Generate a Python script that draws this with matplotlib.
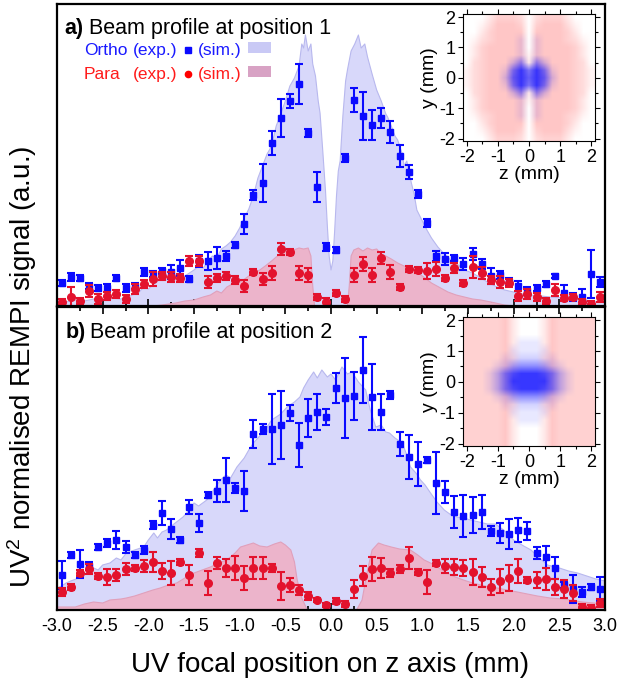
#!/usr/bin/env python

# Two stacked beam profiles (ortho / para REMPI signal) with particle-map insets

import numpy as np
import matplotlib
matplotlib.use("Agg")
import matplotlib.pyplot as plt
from matplotlib.patches import Rectangle
from matplotlib.lines import Line2D
from matplotlib.ticker import MultipleLocator, FormatStrFormatter

plt.rcParams["font.family"] = ["Liberation Sans", "DejaVu Sans"]
plt.rcParams["axes.unicode_minus"] = False
plt.rcParams["mathtext.fontset"] = "custom"
plt.rcParams["mathtext.rm"] = "Liberation Sans"
plt.rcParams["mathtext.default"] = "regular"

# Experimental positions (mm)
z_exp = [-2.95, -2.85, -2.75, -2.65, -2.55, -2.45, -2.35, -2.25, -2.15, -2.05,
         -1.95, -1.85, -1.75, -1.65, -1.55, -1.45, -1.35, -1.25, -1.15, -1.05,
         -0.95, -0.85, -0.75, -0.65, -0.55, -0.45, -0.35, -0.25, -0.15, -0.05,
         0.05, 0.15, 0.25, 0.35, 0.45, 0.55, 0.65, 0.75, 0.85, 0.95,
         1.05, 1.15, 1.25, 1.35, 1.45, 1.55, 1.65, 1.75, 1.85, 1.95,
         2.05, 2.15, 2.25, 2.35, 2.45, 2.55, 2.65, 2.75, 2.85, 2.95]

# Position 1 - experiment (a.u.)
a_ortho = [23, 29, 27.7, 20, 17.7, 18, 28, 17.7, 20.3, 34,
           32, 35, 34, 37.7, 27.3, 44.7, 45, 48, 50, 61,
           81.7, 110.7, 123.3, 162.7, 188, 204.7, 221.7, 172.7, 119.3, 59,
           56, 147.7, 206, 190, 181, 187.7, 174.3, 150, 134.3, 111.7,
           82.7, 50.3, 46.7, 48.3, 41.7, 51.7, 41.7, 30.3, 31, 23.7,
           20, 15, 18.3, 22, 30, 12.7, 9.3, 9.3, 31.7, 24]
a_ortho_err = [3, 4, 3, 3, 3, 4, 3, 4, 3, 4,
               3, 3, 7, 8, 3, 6, 9, 11, 5, 3,
               10, 5, 19, 12, 19, 7, 20, 4, 15, 4,
               3, 4, 12, 24, 15, 10, 11, 11, 7, 4,
               4, 5, 6, 3, 6, 6, 5, 8, 4, 4,
               5, 4, 3, 3, 2, 8, 4, 8, 24, 5]
a_para = [4.3, 9.3, 5, 15, 6.7, 10.3, 11.7, 6.7, 16.7, 21.7,
          26.7, 30.3, 29, 28.3, 45, 45, 24.3, 27.7, 30, 26,
          20, 33.7, 26.7, 33.3, 56.7, 53.7, 32.7, 31, 9.3, 4.3,
          12.7, 6.7, 31, 42, 31, 47.7, 34.3, 19.3, 37.3, 36,
          35, 36.7, 27.7, 37.7, 22.7, 38.7, 32.7, 26, 23.7, 22.7,
          10.3, 12, 9.3, 5, 16, 7.7, 9.3, 4.3, 2, 9.3]
a_para_err = [3, 10, 3, 6, 5, 4, 4, 4, 5, 4,
              7, 4, 5, 4, 5, 5, 6, 4, 4, 4,
              6, 3, 6, 7, 6, 3, 7, 7, 3, 4,
              3, 3, 7, 7, 7, 6, 7, 3, 3, 3,
              8, 7, 3, 5, 3, 11, 6, 4, 6, 4,
              5, 5, 4, 3, 6, 3, 3, 3, 3, 5]

# Position 2 - experiment (a.u.)
b_ortho = [35, 55, 45.7, 44.3, 63.3, 66.7, 70, 63.3, 55, 60,
           84.7, 96.7, 81, 70, 103.3, 86.7, 115, 119, 130, 121.7,
           119.3, 176, 180.7, 181, 185, 196.7, 165, 191.7, 198.3, 193.3,
           221.7, 211.7, 214.3, 240, 212.7, 198.3, 215, 166, 152.7, 145.7,
           150, 127.3, 118.3, 98.3, 94, 95, 97.7, 79, 77.3, 76,
           80, 79, 57.3, 52.7, 41.7, 25, 20.7, 18.3, 23.3, 21]
b_ortho_err = [14, 3, 14, 4, 3, 4, 9, 6, 3, 4,
               4, 12, 10, 3, 7, 9, 3, 11, 22, 5,
               20, 14, 5, 35, 34, 8, 22, 19, 18, 8,
               15, 40, 24, 33, 33, 18, 4, 12, 22, 22,
               3, 31, 11, 16, 21, 18, 17, 5, 10, 15,
               12, 9, 6, 11, 11, 3, 14, 5, 3, 12]
b_para = [18.3, 22.7, 37.3, 40.7, 34, 33.3, 35, 40.7, 41.7, 44.3,
          47.7, 39.3, 36.7, 47.7, 35, 56.7, 26.7, 46.7, 41.7, 42.3,
          32.3, 41.7, 41.7, 42.3, 24.3, 25, 20, 14, 10, 5,
          9, 6, 20.7, 34, 40.7, 42.3, 36.7, 40.7, 51.7, 38.3,
          28.3, 46.7, 44.3, 42.7, 42.3, 38.3, 33.3, 22.7, 29, 31.7,
          39.3, 30, 30, 30.7, 23.3, 21, 17, 2.7, 1.7, 7.3]
b_para_err = [4, 3, 3, 5, 3, 8, 6, 6, 3, 6,
              10, 8, 12, 3, 10, 4, 12, 6, 9, 12,
              12, 11, 11, 4, 14, 7, 5, 4, 2, 2,
              3, 3, 9, 10, 12, 10, 4, 4, 11, 3,
              12, 3, 7, 8, 8, 13, 10, 8, 12, 13,
              12, 3, 8, 11, 8, 9, 8, 3, 3, 4]

# Simulations (z mm, signal a.u.)
sim_a_ortho = [(-3.0, 5), (-2.9, 4), (-2.8, 6), (-2.7, 5), (-2.6, 7), (-2.5, 6),
               (-2.4, 8), (-2.3, 7), (-2.2, 10), (-2.1, 14), (-2.05, 19), (-2.0, 17),
               (-1.9, 25), (-1.85, 28), (-1.8, 26), (-1.7, 31), (-1.6, 30), (-1.5, 36),
               (-1.45, 40), (-1.4, 38), (-1.3, 50), (-1.25, 48), (-1.2, 57), (-1.15, 60),
               (-1.1, 64), (-1.05, 70), (-1.0, 78), (-0.95, 88), (-0.9, 97), (-0.85, 110),
               (-0.8, 128), (-0.75, 140), (-0.7, 152), (-0.65, 160), (-0.6, 180),
               (-0.55, 192), (-0.5, 205), (-0.45, 220), (-0.4, 228), (-0.35, 240),
               (-0.32, 262), (-0.3, 258), (-0.28, 271), (-0.25, 255), (-0.22, 262),
               (-0.2, 242), (-0.17, 230), (-0.14, 205), (-0.12, 193), (-0.09, 155),
               (-0.06, 115), (-0.04, 80), (-0.02, 50), (0.0, 36), (0.02, 45), (0.04, 75),
               (0.06, 110), (0.08, 135), (0.1, 145), (0.13, 190), (0.16, 225), (0.18, 236),
               (0.22, 255), (0.26, 262), (0.3, 271), (0.33, 258), (0.37, 262), (0.4, 249),
               (0.45, 232), (0.5, 216), (0.55, 205), (0.6, 192), (0.62, 189), (0.66, 180),
               (0.7, 170), (0.73, 166), (0.78, 152), (0.8, 140), (0.83, 145), (0.88, 123),
               (0.91, 112), (0.94, 96), (1.0, 85), (1.05, 76), (1.1, 68), (1.17, 59),
               (1.24, 52), (1.31, 46), (1.38, 42), (1.46, 36), (1.55, 33), (1.64, 28),
               (1.73, 23), (1.82, 19), (1.9, 16), (2.0, 14), (2.1, 12), (2.18, 11),
               (2.3, 10), (2.4, 9), (2.55, 8), (2.7, 7), (2.85, 5), (3.0, 4)]
sim_a_para = [(-3.0, 0), (-1.95, 0), (-1.85, 1), (-1.7, 3), (-1.6, 5), (-1.5, 6),
              (-1.4, 9), (-1.32, 11), (-1.25, 15), (-1.2, 13), (-1.14, 19), (-1.08, 22),
              (-1.0, 24), (-0.96, 26), (-0.9, 30), (-0.85, 33), (-0.78, 36), (-0.72, 40),
              (-0.65, 45), (-0.6, 49), (-0.55, 52), (-0.5, 56), (-0.45, 55), (-0.41, 56),
              (-0.35, 58), (-0.3, 57), (-0.25, 58), (-0.22, 50), (-0.2, 20), (-0.18, 0),
              (0.18, 0), (0.2, 20), (0.22, 50), (0.25, 56), (0.3, 58), (0.35, 55),
              (0.4, 58), (0.45, 56), (0.5, 57), (0.55, 52), (0.6, 50), (0.66, 47),
              (0.73, 43), (0.8, 40), (0.86, 38), (0.91, 36), (1.0, 30), (1.1, 23),
              (1.2, 18), (1.28, 14), (1.37, 11), (1.46, 9), (1.55, 7), (1.64, 6),
              (1.75, 4), (1.9, 1), (2.0, 0), (3.0, 0)]
sim_b_ortho = [(-3.0, 22), (-2.95, 24), (-2.9, 27), (-2.85, 29), (-2.79, 31), (-2.7, 36),
               (-2.6, 42), (-2.55, 40), (-2.5, 45), (-2.42, 47), (-2.35, 52), (-2.3, 50),
               (-2.24, 57), (-2.15, 60), (-2.05, 63), (-2.0, 70), (-1.94, 77), (-1.9, 72),
               (-1.85, 78), (-1.8, 80), (-1.72, 86), (-1.62, 93), (-1.55, 100), (-1.5, 107),
               (-1.45, 104), (-1.36, 110), (-1.3, 118), (-1.21, 130), (-1.15, 135),
               (-1.1, 132), (-1.03, 143), (-0.95, 152), (-0.9, 160), (-0.85, 167),
               (-0.8, 172), (-0.7, 183), (-0.65, 190), (-0.55, 196), (-0.48, 203),
               (-0.4, 208), (-0.34, 213), (-0.3, 222), (-0.25, 230), (-0.19, 238),
               (-0.15, 232), (-0.1, 240), (-0.04, 233), (0.0, 236), (0.05, 230),
               (0.12, 243), (0.18, 236), (0.23, 238), (0.3, 228), (0.38, 220), (0.43, 200),
               (0.49, 183), (0.55, 185), (0.6, 178), (0.64, 177), (0.7, 172), (0.78, 167),
               (0.83, 155), (0.87, 143), (0.93, 137), (0.98, 130), (1.03, 125), (1.09, 117),
               (1.16, 108), (1.24, 100), (1.3, 96), (1.38, 93), (1.45, 92), (1.53, 90),
               (1.62, 88), (1.71, 86), (1.8, 86), (1.89, 80), (2.0, 70), (2.11, 64),
               (2.19, 60), (2.28, 52), (2.37, 45), (2.5, 42), (2.6, 39), (2.7, 37),
               (2.8, 34), (2.9, 31), (3.0, 29)]
sim_b_para = [(-3.0, 3), (-2.8, 3), (-2.7, 6), (-2.6, 8), (-2.5, 7), (-2.42, 10),
              (-2.3, 11), (-2.24, 12), (-2.15, 14), (-2.05, 17), (-1.95, 20), (-1.87, 22),
              (-1.78, 25), (-1.69, 27), (-1.6, 32), (-1.5, 37), (-1.41, 40), (-1.32, 43),
              (-1.23, 47), (-1.14, 50), (-1.05, 57), (-0.99, 63), (-0.92, 65), (-0.85, 67),
              (-0.78, 64), (-0.7, 63), (-0.62, 66), (-0.55, 68), (-0.5, 65), (-0.44, 60),
              (-0.4, 48), (-0.37, 30), (-0.32, 12), (-0.26, 0), (0.28, 0), (0.34, 10),
              (0.4, 40), (0.45, 60), (0.52, 67), (0.58, 65), (0.66, 63), (0.75, 61),
              (0.87, 60), (0.95, 55), (1.02, 50), (1.09, 47), (1.18, 42), (1.27, 37),
              (1.36, 33), (1.45, 30), (1.55, 27), (1.64, 25), (1.73, 23), (1.82, 22),
              (1.93, 20), (2.04, 18), (2.15, 16), (2.26, 14), (2.4, 12), (2.55, 11),
              (2.75, 8), (3.0, 6)]

# Inset particle density maps, rows y = 2.0 .. 0.0 (step 0.25), cols z = -2 .. 2
# (step 0.25); digits 0-9, lower half mirrored
map_a_para = ["00024443034442000",
              "00135554045553100",
              "00245555055554200",
              "01345555055554310",
              "02455555055555420",
              "02455555155555420",
              "03455555255555430",
              "13455555255555431",
              "13455555255555431"]
map_a_ortho = ["00000000000000000",
               "00000000000000000",
               "00000000000000000",
               "00000001010000000",
               "00000001010000000",
               "00000001010000000",
               "00000025052000000",
               "00000169696100000",
               "00000279797200000"]
map_b_para = ["44444520002544444",
              "44444520002544444",
              "44444520002544444",
              "44444520002544444",
              "44444520002544444",
              "44444530003544444",
              "44444530003544444",
              "44444530003544444",
              "44444530003544444"]
map_b_ortho = ["00000000000000000",
               "00000000000000000",
               "00000000000000000",
               "00000001110000000",
               "00000011111000000",
               "00000112221100000",
               "00001245554210000",
               "00013689998631000",
               "00013699999631000"]

BLUE = "#0a0aff"
RED = "#e3122d"
SIM_BLUE = "#d8d8fa"
SIM_BLUE_EDGE = "#b8b8ee"
SIM_RED = "#ecb4cb"
SIM_RED_EDGE = "#e0a0bb"

W, H = 621, 681


def frac(x0, y0, x1, y1):
    return [x0 / W, 1 - y1 / H, (x1 - x0) / W, (y1 - y0) / H]


def fpt(x, y):
    return x / W, 1 - y / H


fig = plt.figure(figsize=(W / 100, H / 100), dpi=100)

ax_a = fig.add_axes(frac(57, 4, 605, 306))
ax_b = fig.add_axes(frac(57, 307, 605, 610))

panels = [
    (ax_a, a_ortho, a_ortho_err, a_para, a_para_err, sim_a_ortho, sim_a_para, 302),
    (ax_b, b_ortho, b_ortho_err, b_para, b_para_err, sim_b_ortho, sim_b_para, 303),
]
for ax, ortho, ortho_e, para, para_e, s_o, s_p, top in panels:
    zo, vo = zip(*s_o)
    zp, vp = zip(*s_p)
    ax.fill_between(zo, vo, 0, facecolor=SIM_BLUE, edgecolor="none", zorder=1)
    ax.plot(zo, vo, color=SIM_BLUE_EDGE, lw=0.8, zorder=1)
    ax.fill_between(zp, vp, 0, facecolor=SIM_RED, edgecolor="none", zorder=2)
    ax.plot(zp, vp, color=SIM_RED_EDGE, lw=0.8, zorder=2)
    ax.errorbar(z_exp, ortho, yerr=ortho_e, fmt="s", color=BLUE, ms=5,
                capsize=3, elinewidth=1.5, capthick=1.5, zorder=5)
    ax.errorbar(z_exp, para, yerr=para_e, fmt="o", color=RED, ms=5.5,
                capsize=3, elinewidth=1.5, capthick=1.5, zorder=6)
    ax.set_xlim(-3, 3)
    ax.set_ylim(0, top)
    ax.set_yticks([])
    ax.xaxis.set_major_locator(MultipleLocator(0.5))
    ax.xaxis.set_minor_locator(MultipleLocator(0.25))
    ax.xaxis.set_major_formatter(FormatStrFormatter("%.1f"))
    ax.tick_params(axis="x", which="major", direction="in", length=5, width=1.2,
                   labelsize=13, pad=6)
    ax.tick_params(axis="x", which="minor", direction="in", length=3, width=1.2)
    for sp in ax.spines.values():
        sp.set_linewidth(1.6)
        sp.set_zorder(10)

ax_a.tick_params(axis="x", which="both", labelbottom=False, top=False)
ax_b.tick_params(axis="x", which="both", top=True)

# Panel titles
fig.text(*fpt(64, 34), "a)", fontsize=15.5, fontweight="bold", va="baseline")
fig.text(*fpt(89, 34), "Beam profile at position 1", fontsize=15.5, va="baseline")
fig.text(*fpt(66, 338), "b)", fontsize=15.5, fontweight="bold", va="baseline")
fig.text(*fpt(90, 338), "Beam profile at position 2", fontsize=15.5, va="baseline")

# Legend built from pieces
for txt, col, row, marker, msize, swatch in [
    ("Ortho", BLUE, 55, "s", 4, "#c9c9f5"),
    ("Para", "#ff0000", 79, "o", 4.5, "#d8a2c4"),
]:
    tcol = "#1a1aff" if col == BLUE else "#ff1a1a"
    fig.text(*fpt(84, row), txt, color=tcol, fontsize=12.5, va="baseline")
    fig.text(*fpt(133, row), "(exp.)", color=tcol, fontsize=12.5, va="baseline")
    fig.text(*fpt(198, row), "(sim.)", color=tcol, fontsize=12.5, va="baseline")
    mx, my = fpt(188, row - 5)
    fig.add_artist(Line2D([mx], [my], marker=marker, color=col, ms=msize,
                          transform=fig.transFigure))
    sx, sy = fpt(248, row - 2)
    fig.add_artist(Rectangle((sx, sy), 23 / W, 11 / H, facecolor=swatch,
                             edgecolor="none", transform=fig.transFigure))

fig.text(*fpt(22, 367), "UV$^2$ normalised REMPI signal (a.u.)", rotation=90,
         fontsize=20, ha="center", va="center")
fig.text(*fpt(330, 665), "UV focal position on z axis (mm)", fontsize=20,
         ha="center", va="center")


def density_image(red_rows, blue_rows):
    red = np.array([[int(c) for c in r] for r in red_rows], float) / 9.0
    blue = np.array([[int(c) for c in r] for r in blue_rows], float) / 9.0
    red = np.vstack([red, red[-2::-1]])
    blue = np.vstack([blue, blue[-2::-1]])
    img = np.ones(red.shape + (3,))
    ar = (red * 0.5)[..., None]
    img = img * (1 - ar) + np.array([1.0, 0.2, 0.2]) * ar
    ab = (blue * 0.92)[..., None]
    img = img * (1 - ab) + np.array([0.15, 0.15, 1.0]) * ab
    return img


insets = [
    (frac(463, 14, 595, 141), map_a_para, map_a_ortho),
    (frac(463, 317, 595, 446), map_b_para, map_b_ortho),
]
for rect, red_rows, blue_rows in insets:
    ax_i = fig.add_axes(rect)
    ax_i.imshow(density_image(red_rows, blue_rows), extent=(-2.125, 2.125, -2.125, 2.125),
                interpolation="bilinear", origin="upper", aspect="auto")
    ax_i.set_xlim(-2.12, 2.12)
    ax_i.set_ylim(-2.08, 2.1)
    ax_i.xaxis.set_major_locator(MultipleLocator(1))
    ax_i.xaxis.set_minor_locator(MultipleLocator(0.5))
    ax_i.yaxis.set_major_locator(MultipleLocator(1))
    ax_i.yaxis.set_minor_locator(MultipleLocator(0.5))
    ax_i.tick_params(which="both", direction="out", top=True, right=True,
                     labelsize=13, pad=2, width=0.8)
    ax_i.tick_params(which="major", length=3.5)
    ax_i.tick_params(which="minor", length=2)
    ax_i.set_xlabel("z (mm)", fontsize=14, labelpad=0)
    ax_i.set_ylabel("y (mm)", fontsize=14, labelpad=1)
    for sp in ax_i.spines.values():
        sp.set_linewidth(0.8)

fig.savefig("out.png", dpi=100)
